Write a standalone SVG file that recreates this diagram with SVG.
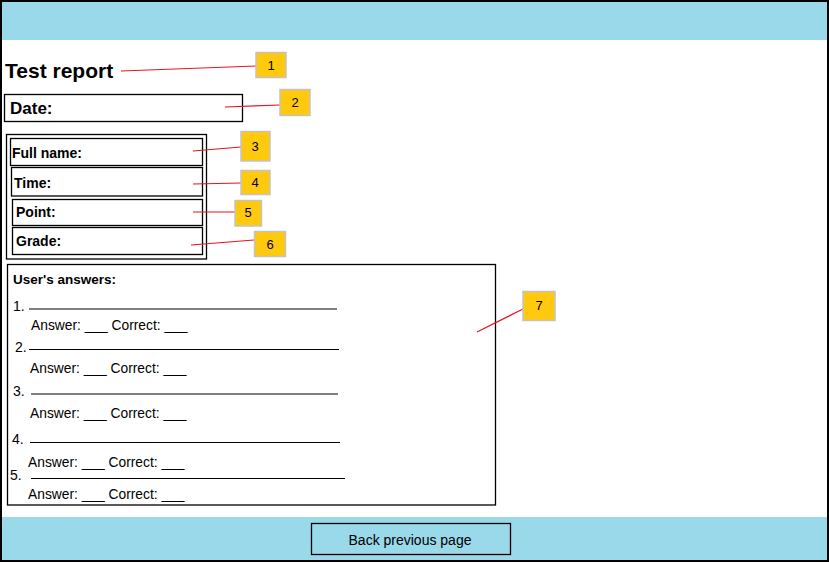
<svg xmlns="http://www.w3.org/2000/svg" width="829" height="563" viewBox="0 0 829 563">
<style>
.t{font-family:"Liberation Sans",Arial,sans-serif;fill:#000}
.b{font-weight:bold}
.a{font-size:13.8px}
.box{fill:none;stroke:#000;stroke-width:1.3}
.ln{stroke:#000;stroke-width:1.2}
.co rect{fill:#FFC90E;stroke:#C3C3C3;stroke-width:1.5}
.co text{font-family:"Liberation Sans",Arial,sans-serif;font-size:13px;text-anchor:middle;fill:#000}
.con line{stroke:#E8141C;stroke-width:1.2}
</style>
<rect x="0" y="0" width="829" height="563" fill="#fff"/>
<rect x="2" y="2" width="825" height="38" fill="#99D9EA"/>
<rect x="2" y="517" width="825" height="43" fill="#99D9EA"/>
<rect x="1" y="1" width="827" height="560" fill="none" stroke="#000" stroke-width="2"/>

<g id="title"><text class="t b" x="5" y="78" font-size="21">Test report</text></g>
<g id="date"><rect class="box" x="4.5" y="94.5" width="238" height="27"/><text class="t b" x="10" y="114" font-size="17">Date:</text></g>
<g id="info">
<rect class="box" x="6.5" y="134.5" width="200" height="124.5"/>
<rect class="box" x="10.5" y="138.5" width="192" height="27"/>
<text class="t b" x="12" y="158" font-size="14">Full name:</text>
<rect class="box" x="11.5" y="167.5" width="191" height="28.5"/>
<text class="t b" x="14" y="188" font-size="14">Time:</text>
<rect class="box" x="12.5" y="199.5" width="190" height="26"/>
<text class="t b" x="16" y="217" font-size="14">Point:</text>
<rect class="box" x="12.5" y="227.5" width="190" height="27"/>
<text class="t b" x="16" y="246" font-size="14">Grade:</text>
</g>
<g id="answers">
<rect class="box" x="7.5" y="264.5" width="488" height="240.5"/>
<text class="t b" x="13" y="284" font-size="13.5">User's answers:</text>
<text class="t" x="13" y="311" font-size="14">1.</text>
<line class="ln" x1="29" y1="309" x2="337" y2="309"/>
<text class="t a" x="31" y="330">Answer: ___ Correct: ___</text>
<text class="t" x="15" y="352" font-size="14">2.</text>
<line class="ln" x1="29" y1="349.5" x2="339" y2="349.5"/>
<text class="t a" x="30" y="373">Answer: ___ Correct: ___</text>
<text class="t" x="13" y="396" font-size="14">3.</text>
<line class="ln" x1="31" y1="394" x2="338" y2="394"/>
<text class="t a" x="30" y="418">Answer: ___ Correct: ___</text>
<text class="t" x="12" y="444" font-size="14">4.</text>
<line class="ln" x1="30" y1="442.5" x2="340" y2="442.5"/>
<text class="t a" x="28" y="467">Answer: ___ Correct: ___</text>
<text class="t" x="10" y="480" font-size="14">5.</text>
<line class="ln" x1="31" y1="478.5" x2="345" y2="478.5"/>
<text class="t a" x="28" y="499">Answer: ___ Correct: ___</text>
</g>
<g id="back">
<rect class="box" x="311.5" y="523.5" width="199" height="31"/>
<text class="t" x="410" y="545" font-size="14" text-anchor="middle">Back previous page</text>
</g>

<g id="connectors" class="con">
<line x1="121" y1="71" x2="256" y2="66"/>
<line x1="225" y1="107" x2="280" y2="105"/>
<line x1="193" y1="151" x2="241" y2="147"/>
<line x1="193" y1="184" x2="241" y2="183"/>
<line x1="193" y1="212" x2="235" y2="212"/>
<line x1="191" y1="245" x2="254" y2="240"/>
<line x1="477" y1="332" x2="523" y2="309"/>
</g>

<g id="c1" class="co"><rect x="256" y="52.5" width="30" height="25"/><text x="271" y="70">1</text></g>
<g id="c2" class="co"><rect x="280" y="89.5" width="30" height="26"/><text x="295" y="107">2</text></g>
<g id="c3" class="co"><rect x="241" y="131.5" width="29" height="29.5"/><text x="255" y="151">3</text></g>
<g id="c4" class="co"><rect x="241" y="170.5" width="29" height="24"/><text x="255" y="187">4</text></g>
<g id="c5" class="co"><rect x="235" y="200.5" width="26.5" height="25.5"/><text x="248" y="217">5</text></g>
<g id="c6" class="co"><rect x="254.5" y="231.5" width="31" height="25"/><text x="270" y="249">6</text></g>
<g id="c7" class="co"><rect x="523" y="291.5" width="32" height="29"/><text x="539" y="310">7</text></g>
</svg>
